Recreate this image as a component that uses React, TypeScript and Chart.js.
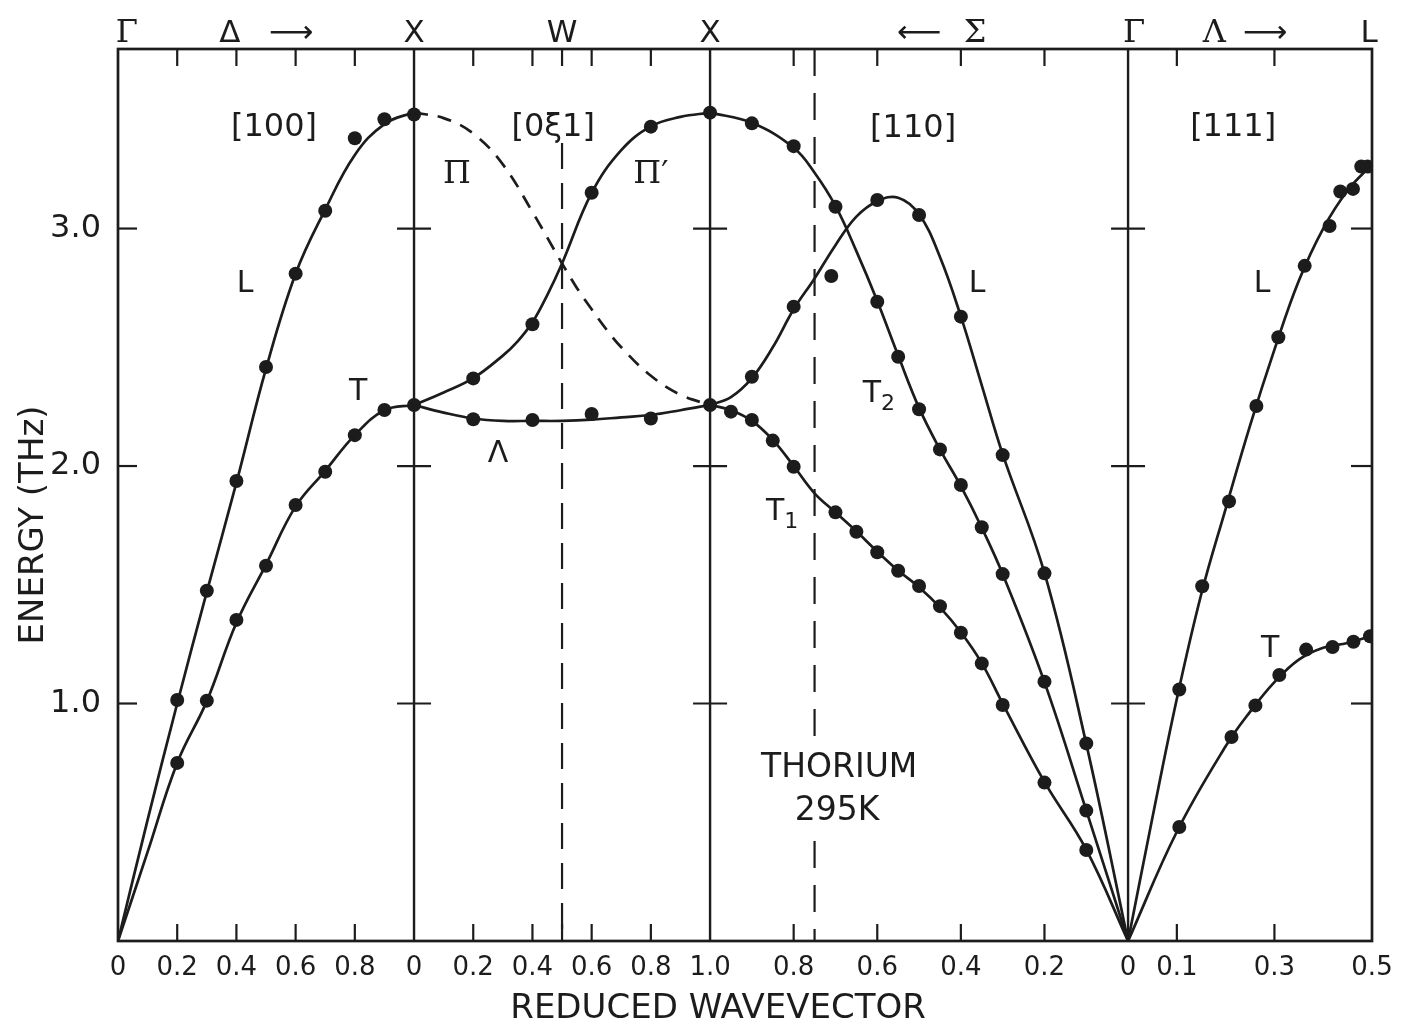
import React, { useEffect, useRef } from 'react';
import { Chart, registerables } from 'chart.js';

Chart.register(...registerables);

type Pt = [number, number];

// Segment lengths along the Brillouin-zone path, in units of 2π/a as laid out on the axis
const SEG_DELTA = 1; // Γ → X  [100]
const SEG_XWX = 1; // X → W → X  [0ξ1]
const SEG_SIGMA = 1.412; // X → K → Γ  [110]
const SEG_LAMBDA = 0.824; // Γ → L  [111]

const P_X1 = SEG_DELTA;
const P_W = P_X1 + 0.5 * SEG_XWX;
const P_X2 = P_X1 + SEG_XWX;
const P_K = P_X2 + 0.25 * SEG_SIGMA;
const P_G2 = P_X2 + SEG_SIGMA;
const P_L = P_G2 + SEG_LAMBDA;

const onDelta = (xi: number) => xi * SEG_DELTA;
const onXWX = (xi: number) => P_X1 + xi * SEG_XWX;
const onSigma = (xi: number) => P_X2 + (1 - xi) * SEG_SIGMA;
const onLambda = (xi: number) => P_G2 + (xi / 0.5) * SEG_LAMBDA;

// Energy axis (THz)
const E_MAX = 3.756;
const E_TICKS = [1, 2, 3];

// Reduced-wavevector tick labels for each segment
const TICKS_DELTA = [0, 0.2, 0.4, 0.6, 0.8];
const TICKS_XWX = [0, 0.2, 0.4, 0.6, 0.8, 1.0];
const TICKS_SIGMA = [0.8, 0.6, 0.4, 0.2, 0];
const TICKS_LAMBDA = [0.1, 0.3, 0.5];

// [100] Δ branches: fitted curves and measured points  [ξ, ν (THz)]
const DELTA_L_CURVE: Pt[] = [[0, 0], [0.1, 0.51], [0.2, 1.0], [0.3, 1.47], [0.4, 1.93], [0.5, 2.41], [0.6, 2.81], [0.7, 3.08], [0.8, 3.31], [0.9, 3.44], [1.0, 3.49]];
const DELTA_L_DOTS: Pt[] = [[0.2, 1.015], [0.3, 1.475], [0.4, 1.937], [0.5, 2.417], [0.6, 2.81], [0.7, 3.075], [0.8, 3.38], [0.9, 3.46], [1.0, 3.48]];
const DELTA_T_CURVE: Pt[] = [[0, 0], [0.1, 0.375], [0.2, 0.75], [0.3, 1.01], [0.4, 1.34], [0.5, 1.585], [0.6, 1.83], [0.7, 1.98], [0.8, 2.13], [0.9, 2.235], [1.0, 2.257]];
const DELTA_T_DOTS: Pt[] = [[0.2, 0.75], [0.3, 1.012], [0.4, 1.352], [0.5, 1.58], [0.6, 1.836], [0.7, 1.976], [0.8, 2.13], [0.9, 2.236], [1.0, 2.257]];

// [0ξ1] X–W–X branches
const XWX_PIP_CURVE: Pt[] = [[0, 2.257], [0.1, 2.31], [0.2, 2.37], [0.3, 2.465], [0.35, 2.525], [0.4, 2.605], [0.45, 2.72], [0.5, 2.853], [0.6, 3.15], [0.7, 3.33], [0.8, 3.43], [0.9, 3.47], [1.0, 3.488]];
const XWX_PIP_DOTS: Pt[] = [[0.2, 2.369], [0.4, 2.597], [0.6, 3.151], [0.8, 3.429], [1.0, 3.488]];
const XWX_LAM_CURVE: Pt[] = [[0, 2.257], [0.1, 2.225], [0.2, 2.2], [0.3, 2.19], [0.4, 2.19], [0.5, 2.19], [0.6, 2.195], [0.7, 2.205], [0.8, 2.215], [0.9, 2.235], [1.0, 2.257]];
const XWX_LAM_DOTS: Pt[] = [[0.2, 2.197], [0.4, 2.194], [0.6, 2.219], [0.8, 2.2], [1.0, 2.257]];
const XWX_PI_CURVE: Pt[] = [[0, 3.488], [0.1, 3.465], [0.2, 3.4], [0.3, 3.27], [0.4, 3.07], [0.5, 2.853], [0.55, 2.75], [0.6, 2.66], [0.65, 2.575], [0.7, 2.5], [0.8, 2.38], [0.9, 2.3], [1.0, 2.257]];

// [110] Σ branches (ξ runs from 1 at X to 0 at Γ)
const SIGMA_T2_CURVE: Pt[] = [[1.0, 3.488], [0.9, 3.445], [0.8, 3.34], [0.75, 3.235], [0.7, 3.095], [0.65, 2.905], [0.6, 2.695], [0.55, 2.465], [0.5, 2.245], [0.45, 2.07], [0.4, 1.915], [0.35, 1.74], [0.3, 1.545], [0.2, 1.09], [0.1, 0.55], [0, 0]];
const SIGMA_T2_DOTS: Pt[] = [[0.9, 3.443], [0.8, 3.347], [0.7, 3.092], [0.6, 2.692], [0.55, 2.46], [0.5, 2.239], [0.45, 2.07], [0.4, 1.92], [0.35, 1.742], [0.3, 1.545], [0.2, 1.092], [0.1, 0.549]];
const SIGMA_L_CURVE: Pt[] = [[1.0, 2.257], [0.95, 2.29], [0.9, 2.37], [0.85, 2.5], [0.8, 2.66], [0.75, 2.79], [0.7, 2.93], [0.65, 3.05], [0.6, 3.115], [0.55, 3.13], [0.5, 3.06], [0.45, 2.88], [0.4, 2.63], [0.35, 2.34], [0.3, 2.05], [0.2, 1.55], [0.1, 0.83], [0, 0]];
const SIGMA_L_DOTS: Pt[] = [[0.9, 2.376], [0.8, 2.671], [0.71, 2.8], [0.6, 3.12], [0.5, 3.057], [0.4, 2.629], [0.3, 2.046], [0.2, 1.548], [0.1, 0.832]];
const SIGMA_T1_CURVE: Pt[] = [[1.0, 2.257], [0.95, 2.235], [0.9, 2.19], [0.85, 2.11], [0.8, 2.0], [0.75, 1.885], [0.7, 1.805], [0.65, 1.725], [0.6, 1.64], [0.55, 1.56], [0.5, 1.49], [0.45, 1.405], [0.4, 1.3], [0.35, 1.17], [0.3, 1.0], [0.2, 0.67], [0.1, 0.385], [0, 0]];
const SIGMA_T1_DOTS: Pt[] = [[0.95, 2.229], [0.9, 2.194], [0.85, 2.107], [0.8, 1.997], [0.7, 1.805], [0.65, 1.723], [0.6, 1.637], [0.55, 1.559], [0.5, 1.495], [0.45, 1.41], [0.4, 1.298], [0.35, 1.169], [0.3, 0.994], [0.2, 0.667], [0.1, 0.383]];

// [111] Λ branches
const LAMBDA_L_CURVE: Pt[] = [[0, 0], [0.05, 0.52], [0.1, 1.02], [0.15, 1.46], [0.2, 1.82], [0.25, 2.17], [0.3, 2.49], [0.35, 2.78], [0.4, 3.0], [0.45, 3.16], [0.5, 3.27]];
const LAMBDA_L_DOTS: Pt[] = [[0.105, 1.059], [0.152, 1.494], [0.207, 1.851], [0.263, 2.253], [0.308, 2.542], [0.362, 2.843], [0.413, 3.011], [0.435, 3.156], [0.461, 3.167], [0.478, 3.261], [0.491, 3.261]];
const LAMBDA_T_CURVE: Pt[] = [[0, 0], [0.1, 0.46], [0.2, 0.82], [0.25, 0.965], [0.3, 1.09], [0.35, 1.185], [0.4, 1.235], [0.45, 1.255], [0.5, 1.285]];
const LAMBDA_T_DOTS: Pt[] = [[0.105, 0.48], [0.212, 0.859], [0.261, 0.992], [0.31, 1.12], [0.365, 1.227], [0.419, 1.238], [0.462, 1.26], [0.496, 1.283]];

const INK = '#1c1c1c';
const SANS = '"DejaVu Sans", "Liberation Sans", sans-serif';
const SERIF = '"DejaVu Serif", "Liberation Serif", serif';

const fmtXi = (v: number) => (v === 0 ? '0' : v.toFixed(1));

const X_TICKS: { value: number; label: string }[] = [
  ...TICKS_DELTA.map((v) => ({ value: onDelta(v), label: fmtXi(v) })),
  ...TICKS_XWX.map((v) => ({ value: onXWX(v), label: fmtXi(v) })),
  ...TICKS_SIGMA.map((v) => ({ value: onSigma(v), label: fmtXi(v) })),
  ...TICKS_LAMBDA.map((v) => ({ value: onLambda(v), label: fmtXi(v) })),
];

const BOUNDARIES = [0, P_X1, P_X2, P_G2, P_L];
const INNER_MARKS = X_TICKS.map((t) => t.value).filter((v) => BOUNDARIES.every((b) => Math.abs(b - v) > 1e-6));

const toXY = (pts: Pt[], map: (xi: number) => number) => pts.map(([xi, e]) => ({ x: map(xi), y: e }));

const curve = (pts: Pt[], map: (xi: number) => number, dashed = false) => ({
  data: toXY(pts, map),
  showLine: true,
  pointRadius: 0,
  pointHoverRadius: 0,
  borderColor: INK,
  borderWidth: 2.7,
  tension: 0.4,
  borderDash: dashed ? [14, 10] : [],
  fill: false,
});

const dots = (pts: Pt[], map: (xi: number) => number) => ({
  data: toXY(pts, map),
  showLine: false,
  pointRadius: 7,
  pointHoverRadius: 7,
  pointBackgroundColor: INK,
  pointBorderColor: INK,
  pointBorderWidth: 0,
});

const guides = {
  id: 'zoneGuides',
  beforeDatasetsDraw(chart: any) {
    const { ctx, chartArea: a, scales } = chart;
    const px = (v: number) => scales.x.getPixelForValue(v);
    const py = (v: number) => scales.y.getPixelForValue(v);
    const seg = (x1: number, y1: number, x2: number, y2: number) => {
      ctx.beginPath();
      ctx.moveTo(x1, y1);
      ctx.lineTo(x2, y2);
      ctx.stroke();
    };
    ctx.save();
    ctx.strokeStyle = INK;
    ctx.fillStyle = INK;
    ctx.lineCap = 'butt';

    // frame
    ctx.lineWidth = 2.7;
    ctx.strokeRect(a.left, a.top, a.right - a.left, a.bottom - a.top);

    // symmetry-point verticals
    ctx.lineWidth = 2.4;
    [P_X1, P_X2, P_G2].forEach((v) => seg(px(v), a.top, px(v), a.bottom));

    // W and K markers
    ctx.lineWidth = 2.2;
    ctx.setLineDash([26, 14]);
    seg(px(P_W), py(3.36), px(P_W), a.bottom);
    ctx.setLineDash([27, 17]);
    seg(px(P_K), a.top, px(P_K), a.bottom);
    ctx.setLineDash([]);

    // wavevector tick marks, inside top and bottom
    const TL = 17;
    [...INNER_MARKS, P_W].forEach((v) => {
      seg(px(v), a.top, px(v), a.top + TL);
      seg(px(v), a.bottom, px(v), a.bottom - TL);
    });

    // energy tick marks on every vertical
    E_TICKS.forEach((e) => {
      const y = py(e);
      seg(a.left, y, a.left + 19, y);
      seg(a.right - 21, y, a.right, y);
      [P_X1, P_X2, P_G2].forEach((v) => seg(px(v) - 17, y, px(v) + 17, y));
    });

    const text = (s: string, x: number, y: number, font: string, align: CanvasTextAlign = 'center') => {
      ctx.font = font;
      ctx.textAlign = align;
      ctx.textBaseline = 'alphabetic';
      ctx.fillText(s, x, y);
    };

    // symmetry-point labels along the top
    const topY = 42;
    const f31 = `31px ${SANS}`;
    const g32 = `32px ${SERIF}`;
    const arrow = `31px ${SANS}`;
    text('Γ', px(0.03), topY, g32);
    text('Δ', px(0.378), topY, f31);
    text('⟶', px(0.585), topY, arrow);
    text('X', px(P_X1), topY, f31);
    text('W', px(P_W), topY, f31);
    text('X', px(P_X2), topY, f31);
    text('⟵', px(2.706), topY, arrow);
    text('Σ', px(2.895), topY, g32);
    text('Γ', px(3.432), topY, g32);
    text('Λ', px(3.703), topY, g32);
    text('⟶', px(3.875), topY, arrow);
    text('L', px(4.226), topY, f31);

    // direction labels
    const f32 = `32px ${SANS}`;
    text('[100]', px(0.527), py(3.389), f32);
    text('[0ξ1]', px(1.47), py(3.389), f32);
    text('[110]', px(2.686), py(3.385), f32);
    text('[111]', px(3.767), py(3.389), f32);

    // branch labels
    const f30 = `30px ${SANS}`;
    const sub = `22px ${SANS}`;
    text('L', px(0.429), py(2.733), f30);
    text('T', px(0.811), py(2.278), f30);
    text('Π', px(1.145), py(3.192), `32px ${SERIF}`);
    text('Π′', px(1.8), py(3.192), `32px ${SERIF}`);
    text('Λ', px(1.284), py(2.017), f30);
    text('L', px(2.902), py(2.733), f30);
    text('T', px(2.547), py(2.269), f30);
    text('2', px(2.547) + 9, py(2.236), sub, 'left');
    text('T', px(2.22), py(1.773), f30);
    text('1', px(2.22) + 9, py(1.739), sub, 'left');
    text('L', px(3.865), py(2.733), f30);
    text('T', px(3.892), py(1.196), f30);

    // sample label, set on a white patch over the K marker
    const f33 = `33px ${SANS}`;
    const cx = px(2.436);
    ctx.font = f33;
    const w = ctx.measureText('THORIUM').width;
    ctx.fillStyle = '#ffffff';
    ctx.fillRect(cx - w / 2 - 6, py(0.69) - 34, w + 12, py(0.509) - py(0.69) + 46);
    ctx.fillStyle = INK;
    text('THORIUM', cx, py(0.69), f33);
    text('295K', px(2.429), py(0.509), f33);

    // axis titles
    text('REDUCED WAVEVECTOR', px(2.027), 1018, `34px ${SANS}`);
    ctx.save();
    ctx.translate(43, py(1.752));
    ctx.rotate(-Math.PI / 2);
    text('ENERGY (THz)', 0, 0, `34px ${SANS}`);
    ctx.restore();

    ctx.restore();
  },
};

export default function App() {
  const ref = useRef<HTMLCanvasElement | null>(null);

  useEffect(() => {
    if (!ref.current) return;
    const chart = new Chart(ref.current, {
      type: 'scatter',
      data: {
        datasets: [
          curve(DELTA_L_CURVE, onDelta),
          curve(DELTA_T_CURVE, onDelta),
          curve(XWX_PIP_CURVE, onXWX),
          curve(XWX_LAM_CURVE, onXWX),
          curve(XWX_PI_CURVE, onXWX, true),
          curve(SIGMA_T2_CURVE, onSigma),
          curve(SIGMA_L_CURVE, onSigma),
          curve(SIGMA_T1_CURVE, onSigma),
          curve(LAMBDA_L_CURVE, onLambda),
          curve(LAMBDA_T_CURVE, onLambda),
          dots(DELTA_L_DOTS, onDelta),
          dots(DELTA_T_DOTS, onDelta),
          dots(XWX_PIP_DOTS, onXWX),
          dots(XWX_LAM_DOTS, onXWX),
          dots(SIGMA_T2_DOTS, onSigma),
          dots(SIGMA_L_DOTS, onSigma),
          dots(SIGMA_T1_DOTS, onSigma),
          dots(LAMBDA_L_DOTS, onLambda),
          dots(LAMBDA_T_DOTS, onLambda),
        ] as any,
      },
      options: {
        animation: false,
        responsive: false,
        maintainAspectRatio: false,
        events: [],
        layout: { padding: { left: 0, right: 33, top: 49, bottom: 0 } },
        plugins: { legend: { display: false }, tooltip: { enabled: false } },
        scales: {
          x: {
            type: 'linear',
            min: 0,
            max: P_L,
            grid: { display: false, drawTicks: false },
            border: { display: false },
            afterBuildTicks: (s: any) => {
              s.ticks = X_TICKS.map((t) => ({ value: t.value }));
            },
            afterFit: (s: any) => {
              s.height = 83;
            },
            ticks: {
              autoSkip: false,
              maxRotation: 0,
              minRotation: 0,
              padding: 12,
              color: INK,
              font: { family: SANS, size: 26 },
              callback: (_v: any, i: number) => X_TICKS[i]?.label ?? '',
            },
          },
          y: {
            type: 'linear',
            min: 0,
            max: E_MAX,
            grid: { display: false, drawTicks: false },
            border: { display: false },
            afterBuildTicks: (s: any) => {
              s.ticks = E_TICKS.map((v) => ({ value: v }));
            },
            afterFit: (s: any) => {
              s.width = 118;
            },
            ticks: {
              padding: 17,
              color: INK,
              font: { family: SANS, size: 32 },
              callback: (v: any) => Number(v).toFixed(1),
            },
          },
        },
      },
      plugins: [guides],
    });
    return () => chart.destroy();
  }, []);

  return (
    <div style={{ position: 'fixed', left: 0, top: 0, width: 1405, height: 1024, background: '#ffffff' }}>
      <canvas ref={ref} width={1405} height={1024} style={{ display: 'block', width: 1405, height: 1024 }} />
    </div>
  );
}
